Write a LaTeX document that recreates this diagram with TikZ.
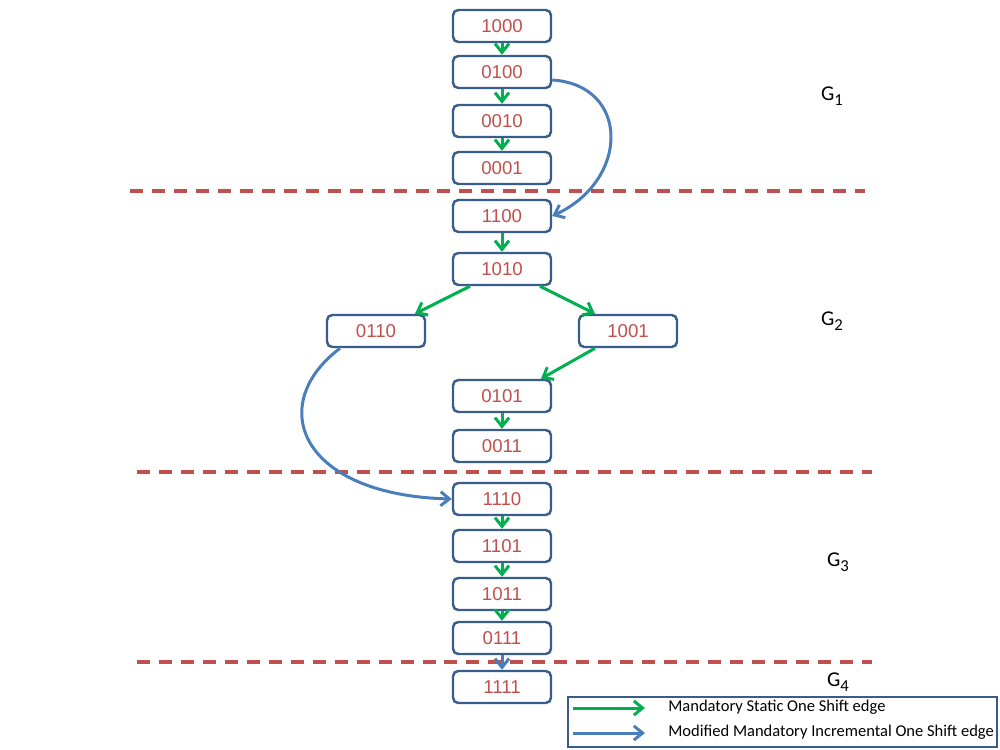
\documentclass[tikz,border=0pt]{standalone}
\usepackage{fontspec}
\setmainfont{Liberation Sans}
\newfontfamily\legfont{Carlito}
\usetikzlibrary{positioning,arrows.meta}
\definecolor{boxblue}{HTML}{385D8A}
\definecolor{numred}{HTML}{C0504D}
\definecolor{shiftgreen}{HTML}{00B050}
\definecolor{incrblue}{HTML}{4A7EBB}
\definecolor{sepred}{HTML}{C0504D}
\newcommand{\grpsub}[1]{\raisebox{-0.45ex}{\fontsize{9.5}{10}\selectfont #1}}
\begin{document}
\begin{tikzpicture}[
  x=0.02cm, y=-0.02cm,
  >={Straight Barb[length=5pt,width=8pt]},
  state/.style={draw=boxblue, line width=1.4pt, rounded corners=3pt, fill=white, minimum width=1.96cm, minimum height=0.64cm, inner sep=0pt, text=numred, font=\fontsize{10.6}{12}\selectfont},
  staticedge/.style={->, draw=shiftgreen, line width=1.7pt},
  incredge/.style={->, draw=incrblue, line width=1.7pt},
  sep/.style={draw=sepred, line width=2pt, dash pattern=on 7.4pt off 5.1pt},
  grp/.style={font=\legfont\fontsize{12}{14}\selectfont, inner sep=0pt},
  leg/.style={font=\legfont\fontsize{9.4}{11}\selectfont, anchor=west, inner sep=0pt},
]
\useasboundingbox (0,0) rectangle (1000,750);

% group separators
\draw[sep] (130,191) -- (865,191);
\draw[sep] (137,472) -- (872,472);
\draw[sep] (137,662) -- (872,662);

% G1
\node[state] (s1000) at (502,26) {1000};
\node[state] (s0100) at (502,72) {0100};
\node[state] (s0010) at (502,121) {0010};
\node[state] (s0001) at (502,168) {0001};
% G2
\node[state] (s1100) at (502,216) {1100};
\node[state] (s1010) at (502,269) {1010};
\node[state] (s0110) at (376,331) {0110};
\node[state] (s1001) at (628,331) {1001};
\node[state] (s0101) at (502,396) {0101};
\node[state] (s0011) at (502,446) {0011};
% G3
\node[state] (s1110) at (502,499) {1110};
\node[state] (s1101) at (502,546) {1101};
\node[state] (s1011) at (502,594) {1011};
\node[state] (s0111) at (502,638) {0111};
% G4
\node[state] (s1111) at (502,687) {1111};

% static one shift edges
\foreach \a/\b in {s1000/s0100,s0100/s0010,s0010/s0001,s1100/s1010,s0101/s0011,s1110/s1101,s1101/s1011,s1011/s0111} {
  \draw[staticedge] (\a.south) -- (\b.north);
}
\draw[staticedge] ([xshift=-0.64cm]s1010.south) -- ([xshift=0.78cm]s0110.north);
\draw[staticedge] ([xshift=0.76cm]s1010.south) -- ([xshift=-0.66cm]s1001.north);
\draw[staticedge] ([xshift=-0.66cm]s1001.south) -- ([xshift=0.78cm]s0101.north);

% incremental one shift edges
\draw[incredge] ([yshift=-0.16cm]s0100.east) .. controls (630,85) and (630,180) .. (s1100.east);
\draw[incredge] ([xshift=-0.72cm]s0110.south) .. controls (265,405) and (300,495) .. (s1110.west);
\draw[incredge] (s0111.south) -- (s1111.north);

% group labels
\node[grp] (g1) at (832,96) {G\grpsub{1}};
\node[grp] (g2) at (832,321) {G\grpsub{2}};
\node[grp] (g3) at (838,562) {G\grpsub{3}};
\node[grp] (g4) at (838,682) {G\grpsub{4}};

% legend
\node[draw=boxblue, line width=1.4pt, minimum width=8.58cm, minimum height=1cm, inner sep=0pt] (legend) at (782.5,722) {};
\coordinate (l1a) at (573,708);
\coordinate (l1b) at (645,708);
\coordinate (l2a) at (573,733);
\coordinate (l2b) at (645,733);
\draw[staticedge] (l1a) -- (l1b);
\draw[incredge] (l2a) -- (l2b);
\node[leg] (t1) at (668,707) {Mandatory Static One Shift edge};
\node[leg] (t2) at (668,732) {Modified Mandatory Incremental One Shift edge};
\end{tikzpicture}
\end{document}
